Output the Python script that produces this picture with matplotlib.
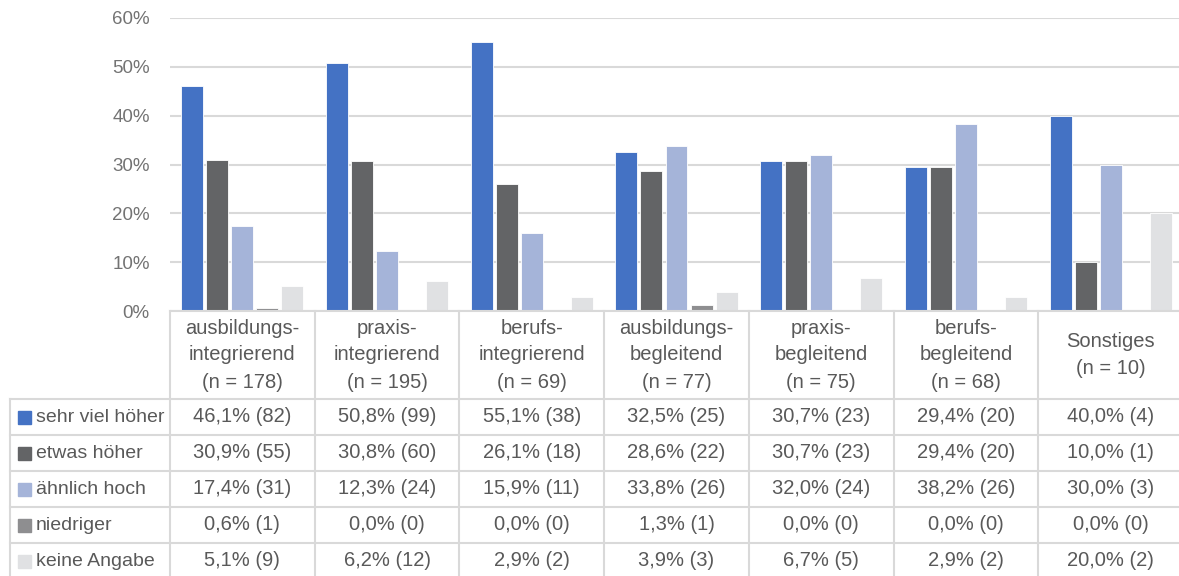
import matplotlib.pyplot as plt
import numpy as np

# Kategorien (Studienformat) und Stichprobengröße
kategorien = [["ausbildungs-", "integrierend"], ["praxis-", "integrierend"],
              ["berufs-", "integrierend"], ["ausbildungs-", "begleitend"],
              ["praxis-", "begleitend"], ["berufs-", "begleitend"], ["Sonstiges"]]
n_gesamt = [178, 195, 69, 77, 75, 68, 10]

antworten = ["sehr viel höher", "etwas höher", "ähnlich hoch", "niedriger", "keine Angabe"]

# Anteile in Prozent und absolute Häufigkeiten je Antwort
sehr_viel_hoeher = [46.1, 50.8, 55.1, 32.5, 30.7, 29.4, 40.0]
etwas_hoeher = [30.9, 30.8, 26.1, 28.6, 30.7, 29.4, 10.0]
aehnlich_hoch = [17.4, 12.3, 15.9, 33.8, 32.0, 38.2, 30.0]
niedriger = [0.6, 0.0, 0.0, 1.3, 0.0, 0.0, 0.0]
keine_angabe = [5.1, 6.2, 2.9, 3.9, 6.7, 2.9, 20.0]

anzahl_sehr_viel = [82, 99, 38, 25, 23, 20, 4]
anzahl_etwas = [55, 60, 18, 22, 23, 20, 1]
anzahl_aehnlich = [31, 24, 11, 26, 24, 26, 3]
anzahl_niedriger = [1, 0, 0, 1, 0, 0, 0]
anzahl_keine = [9, 12, 2, 3, 5, 2, 2]

prozente = [sehr_viel_hoeher, etwas_hoeher, aehnlich_hoch, niedriger, keine_angabe]
anzahlen = [anzahl_sehr_viel, anzahl_etwas, anzahl_aehnlich, anzahl_niedriger, anzahl_keine]
farben = ["#4472C4", "#636466", "#A5B4D9", "#8E8E90", "#E0E1E3"]

plt.rcParams['font.family'] = ['Liberation Sans', 'DejaVu Sans']
textfarbe = "#595959"
achsenfarbe = "#737373"
linienfarbe = "#D9D9D9"

W, H = 1179, 576
fig = plt.figure(figsize=(W / 100, H / 100), dpi=100)

# Diagrammbereich (Pixelangaben in Figurenkoordinaten umgerechnet)
links, rechts, oben, unten = 170, 1183, 18, 311
ax = fig.add_axes([links / W, 1 - unten / H, (rechts - links) / W, (unten - oben) / H])

x = np.arange(len(kategorien))
breite = 0.152
schritt = 0.173
for i, (werte, farbe) in enumerate(zip(prozente, farben)):
    ax.bar(x + (i - 2) * schritt, werte, width=breite, color=farbe,
           edgecolor="white", linewidth=0.6, zorder=3)

ax.set_xlim(-0.5, len(kategorien) - 0.5)
ax.set_ylim(0, 60)
ax.set_yticks(range(0, 61, 10))
ax.set_yticklabels([f"{v}%" for v in range(0, 61, 10)], fontsize=13.5, color=achsenfarbe)
ax.tick_params(axis="y", length=0, pad=14.5)
ax.set_xticks([])
ax.grid(axis="y", color=linienfarbe, linewidth=1.5, zorder=0)
for s in ax.spines.values():
    s.set_visible(False)

# Datentabelle unter dem Diagramm
tab = fig.add_axes([0, 0, 1, 1])
tab.set_xlim(0, W)
tab.set_ylim(H, 0)
tab.axis("off")
tab.patch.set_alpha(0)

spalte = (rechts - links) / len(kategorien)
grenzen = [links + k * spalte for k in range(len(kategorien) + 1)]
zeilen = [399, 435, 471, 507, 543, 579]
lw = 1.5

tab.plot([links, W], [unten, unten], color=linienfarbe, lw=lw)
for g in grenzen:
    tab.plot([g, g], [unten, H], color=linienfarbe, lw=lw)
for z in zeilen[:-1]:
    tab.plot([10, W], [z, z], color=linienfarbe, lw=lw)
tab.plot([10, 10], [zeilen[0], H], color=linienfarbe, lw=lw)

# Kopfzeile mit Kategorienamen
kopf_mitte = 355
for k, (name, n) in enumerate(zip(kategorien, n_gesamt)):
    zeilen_text = name + [f"(n = {n})"]
    cx = links + (k + 0.5) * spalte
    m = len(zeilen_text)
    for j, t in enumerate(zeilen_text):
        y = kopf_mitte + (j - (m - 1) / 2) * 27
        tab.text(cx, y, t, ha="center", va="center", fontsize=14.5, color=textfarbe)

# Wertezeilen mit Legendensymbol
for r, (antwort, farbe) in enumerate(zip(antworten, farben)):
    cy = (zeilen[r] + zeilen[r + 1]) / 2
    tab.add_patch(plt.Rectangle((18, cy - 6.5), 13, 13, color=farbe))
    tab.text(36, cy, antwort, ha="left", va="center", fontsize=14, color=textfarbe)
    for k in range(len(kategorien)):
        cx = links + (k + 0.5) * spalte
        wert = f"{prozente[r][k]:.1f}".replace(".", ",")
        tab.text(cx, cy, f"{wert}% ({anzahlen[r][k]})", ha="center", va="center",
                 fontsize=14.5, color=textfarbe)

fig.savefig("out.png", dpi=100)
